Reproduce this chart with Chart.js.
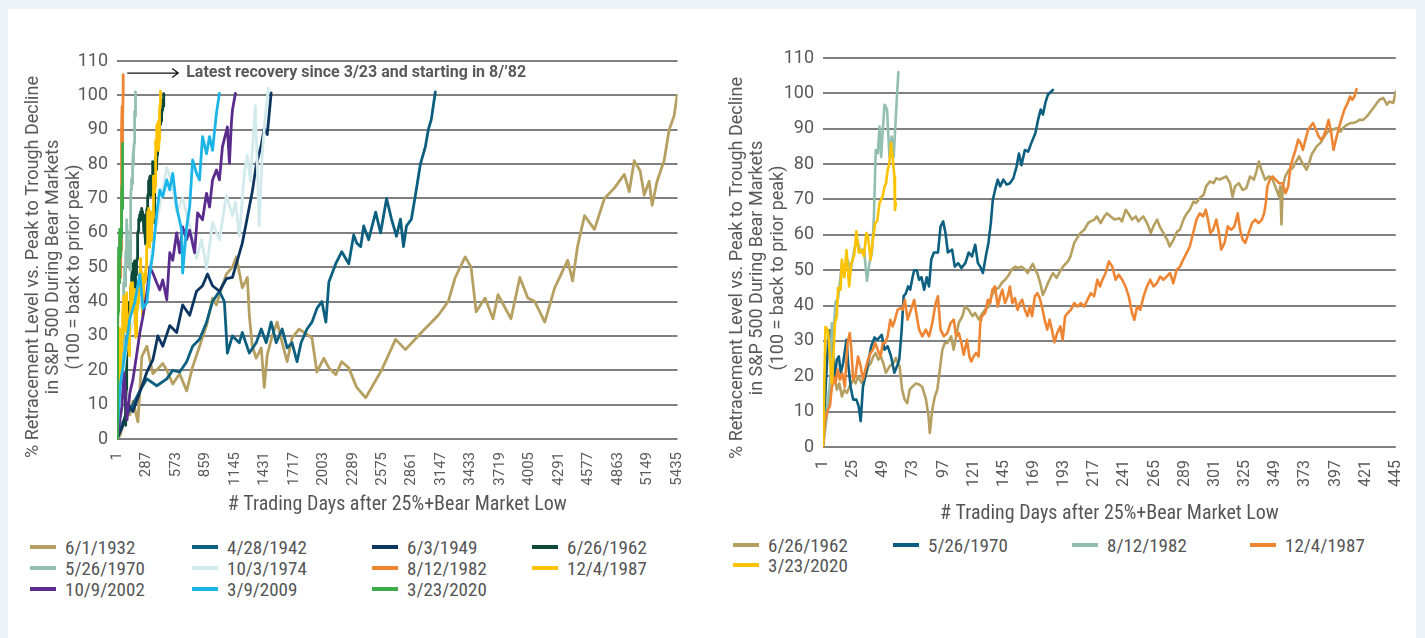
<!DOCTYPE html>
<html>
<head>
<meta charset="utf-8">
<script src="https://cdn.jsdelivr.net/npm/chart.js@4.4.1/dist/chart.umd.min.js"></script>
<style>
  html, body { margin: 0; padding: 0; }
  body { width: 1425px; height: 638px; background: #eef3f8; position: relative; overflow: hidden; font-family: Roboto, sans-serif; }
  #panel { position: absolute; left: 8px; top: 9px; width: 1408px; height: 640px; background: #fff; }
  canvas { position: absolute; }
  #leftChart { left: 0; top: 0; }
  #rightChart { left: 700px; top: 0; }
  .legend { position: absolute; left: 0; top: 0; font-family: "Liberation Sans Narrow", "Roboto Condensed", "DejaVu Sans Condensed", Roboto, sans-serif; font-size: 19px; color: #555; }
  .legend .item { position: absolute; white-space: nowrap; display: flex; align-items: center; height: 20px; }
  .legend .swatch { width: 26px; height: 4px; margin-right: 9px; }
</style>
</head>
<body>
<div id="panel"></div>
<canvas id="leftChart" width="700" height="525"></canvas>
<canvas id="rightChart" width="720" height="530"></canvas>
<div class="legend" id="leftLegend"></div>
<div class="legend" id="rightLegend"></div>
<script>
// ================= DATA =================
// [trading day, % retracement]
const s1932 = [[1,0],[30,1],[98,8],[126,7],[155,11],[204,5],[242,24],[291,27],[349,19],[416,21],[445,22],[484,20],[542,16],[609,19],[677,14],[735,21],[802,27],[870,33],[928,41],[966,39],[995,42],[1063,48],[1121,50],[1159,53],[1217,44],[1266,47],[1285,36],[1314,27],[1352,23.5],[1401,26.5],[1430,15],[1459,24.5],[1507,30],[1555,34],[1604,28],[1652,22.5],[1700,29.4],[1768,32],[1816,31],[1893,29.4],[1941,19.5],[2008,23.5],[2057,20.7],[2124,18.7],[2182,22.5],[2250,20.7],[2327,15],[2414,12],[2568,20],[2704,29],[2800,26],[2955,31],[3119,36],[3215,40],[3283,47],[3380,53],[3437,50],[3486,37],[3573,41],[3650,35],[3698,42],[3824,35],[3910,47],[3988,41],[4055,40],[4152,34],[4248,44],[4374,52],[4422,46],[4470,56],[4538,65],[4634,61],[4731,70],[4827,73],[4924,77],[4972,72],[5020,81],[5078,78],[5117,71],[5165,75],[5194,68],[5242,75],[5310,81],[5359,90],[5407,94],[5436,100]];

const s1942 = [[1,0],[59,5],[155,10],[223,14],[291,17.5],[387,15.5],[484,17.5],[542,20],[609,19.5],[677,22.5],[735,27],[802,29],[870,34],[928,40],[995,43],[1043,40],[1072,25],[1121,30],[1188,28],[1217,31],[1285,25],[1352,28],[1401,32],[1449,28],[1497,34],[1546,28],[1604,32],[1652,26.5],[1700,28],[1748,22.5],[1787,28],[1845,32],[1893,34],[1941,38],[1989,40],[2028,34],[2057,45.7],[2124,51],[2182,54.5],[2250,51],[2298,59.4],[2327,57],[2366,56],[2395,62],[2443,58],[2511,66],[2559,60],[2617,70],[2665,64],[2713,59],[2752,64],[2781,56],[2810,62],[2858,64],[2897,71],[2945,80],[2993,85],[3022,90],[3051,93],[3090,101]];

const s1949 = [[1,0],[59,4],[107,10],[155,8],[223,13.7],[291,19.5],[349,23],[397,30],[445,27],[513,33],[580,31],[638,39],[706,36],[773,43],[831,44.6],[879,48],[928,44.6],[995,43],[1063,46.7],[1121,47],[1169,52],[1217,57],[1256,63],[1314,72],[1352,79.7],[1401,85.5],[1430,90.5],[1459,88.6],[1497,100.7]];

const s1962 = [[1,0],[2,3],[4,8.7],[6,13.4],[8,17],[10,20],[12,16.2],[14,18],[16,14.3],[18,16.2],[20,15.3],[22,17],[25,19],[27,18],[29,20],[32,18],[35,20],[37,22.8],[39,23.7],[41,25.6],[43,26.6],[45,24.7],[47,25.6],[49,23.7],[51,21],[54,22.8],[57,23.7],[59,25.2],[62,22.8],[64,16.2],[66,13.4],[68,12.4],[70,16.2],[72,17],[75,18],[78,17.6],[80,17],[83,13.4],[85,8.7],[86,4],[88,10.5],[90,14.3],[92,16.2],[94,21.9],[96,27.5],[98,29.4],[100,29.4],[103,31.3],[105,27.5],[107,31.3],[109,35],[112,37],[114,39.7],[117,38.8],[120,37],[122,37.9],[125,36],[128,37.9],[130,38.8],[133,39.7],[135,42.6],[138,44.5],[141,45],[143,46.3],[146,47.3],[149,48.7],[151,50.1],[154,51],[156,50.6],[159,51],[162,50.1],[164,49.2],[166,50.6],[168,51.8],[170,50.1],[172,48.7],[174,46.3],[176,43],[178,44.5],[180,46.3],[184,49.2],[187,47.8],[189,49.2],[192,51],[196,52.5],[198,53.9],[201,57.7],[204,59.5],[206,60.5],[209,61.4],[212,63.3],[214,63.8],[217,64.3],[219,65.2],[222,63.3],[225,65.2],[227,66.1],[230,65.2],[233,64.3],[237,64.7],[239,63.8],[242,67.1],[244,66.1],[247,64.3],[250,65.2],[252,63.8],[256,65.2],[259,63.3],[262,60.5],[264,62.4],[267,64.3],[269,62.4],[272,60.5],[275,58.6],[277,56.7],[280,58.6],[283,61],[285,61.4],[288,64.3],[290,65.7],[293,67.1],[296,69.4],[298,69],[301,70.4],[304,71.3],[306,73.7],[309,75.1],[312,74.6],[314,76],[317,75.6],[319,76],[322,76.5],[325,74.6],[327,70.8],[329,73.7],[332,74.6],[335,72.7],[338,73.2],[341,76.5],[344,75.6],[346,77.9],[348,80.7],[350,78.4],[353,75.6],[356,76.5],[359,75.6],[361,73.7],[364,70.8],[365,73.7],[366,62.9],[367,73.7],[369,76.5],[372,78.4],[375,78.9],[377,80.3],[380,82.2],[382,80.7],[386,78.4],[388,80.3],[390,82.7],[394,85],[397,86],[400,87.8],[402,88.8],[405,89.7],[407,89.7],[410,90.2],[413,89.2],[415,90.2],[418,91.1],[421,91.6],[423,91.6],[426,92],[428,92.5],[431,92.5],[434,93.5],[436,94.4],[439,95.8],[442,97.3],[444,98.2],[447,98.7],[450,96.8],[452,97.7],[455,97.3],[457,100.5]];

const s1970 = [[1,0],[3,16],[5,29.4],[6.5,33],[8,31],[9,25.6],[10.5,20],[12,24.7],[13.6,25.6],[15.2,21],[17,23.7],[19.7,30.3],[21,23.7],[23,17],[25,13.4],[27.6,13.4],[29.4,11.5],[31,7.3],[32.8,17],[34.7,20],[36.8,23.7],[39.4,28.5],[42,31],[44.1,30.3],[46,31],[47.8,31.7],[50,27.5],[52.5,28.5],[55.2,25.6],[57.8,21],[59.9,22.8],[61.7,24.7],[63.6,33],[65.2,42.6],[67,43.5],[68.8,45.4],[70.4,44.5],[72.3,48],[73.6,50],[75.7,50],[77.5,47.3],[79.4,48],[81.5,44.5],[83.6,48],[85.4,45.4],[87.2,53],[89.3,55],[92.5,55],[94.6,62.4],[96.7,63.8],[98.5,60.5],[100.4,55],[103.8,55.8],[105.9,51],[108.6,52],[111.2,50.6],[114.3,52],[117,55],[119.6,53.9],[122.2,57.2],[124.3,52],[126.2,51],[128.3,49.2],[130.6,53.9],[132.7,57.7],[134.6,63.3],[136.2,69.9],[138,72.7],[140.1,75.6],[142,73.7],[144.6,75.6],[147.2,74.2],[149.8,74.6],[152.5,76],[155.1,79.3],[157,83],[159,79.7],[161.7,84],[164.3,83.5],[166.9,86],[170.1,88.8],[172.2,92.5],[174.3,95.4],[176.1,94],[178,97.3],[180,99.6],[184,101]];

const s1974 = [[1,0],[30,12],[98,28],[175,36],[291,43],[349,56],[416,68],[484,79],[532,75],[580,66],[638,70],[706,62],[773,52.5],[822,58],[870,49.6],[928,63],[995,58],[1063,71],[1121,65],[1150,69],[1188,59],[1237,77.7],[1266,82.7],[1295,75],[1343,97],[1381,62],[1410,82.7],[1440,94],[1469,102]];

const s1982 = [[1,0],[4,10.5],[7,20],[8,35],[9,30],[11,41],[13,42],[14,45],[16,52],[18,50],[20.5,53],[23,50],[26,56],[28.3,58.6],[31,55],[33.6,56],[36,47],[38,52],[40,55],[41.5,65],[43,84],[44.6,83],[46,90.6],[47.3,82],[48.6,89.7],[50,96.8],[52,95.4],[53.9,82],[55.7,87.8],[57.3,82],[59,93.5],[60,100],[61,106]];

const s1987 = [[1,0],[2.6,7.7],[4.7,10.5],[6.5,11.5],[7.8,16.2],[9.2,20],[11,18],[12.6,21.9],[14.4,19],[16.3,20.9],[18.4,17],[20.5,29.4],[22.3,32.2],[23.6,27.5],[25,19],[26.8,20],[28.9,25.6],[31,22.8],[32.8,19],[34.7,21.9],[36.8,24.7],[38.9,26.6],[40.7,27.5],[42.5,29.4],[44.6,27.5],[46.8,25.6],[48.6,29.4],[50.4,29.4],[52.5,31.3],[54.6,36],[56.5,34.1],[58.3,36],[60.4,38.8],[62.5,39.3],[64.4,38.8],[66.2,41.6],[68.3,36],[71,38.8],[73.6,41.6],[75.7,36.9],[77.5,33.2],[80.1,31.3],[82.8,33.2],[85.4,31.3],[88,35],[90.7,40.7],[92.5,42.6],[94.6,33.2],[97.2,31.3],[99.9,32.2],[102.5,35],[105.1,36],[107,31.3],[109.1,32.2],[111.2,29.4],[113,26.1],[115.7,30.3],[117.5,25.6],[119.1,24.2],[120.9,25.6],[122.8,26.6],[124.9,25.6],[126.2,35],[127.5,37],[130.1,37.9],[132.2,41.6],[134.1,40.7],[135.9,44.5],[138,45.4],[140.1,39.7],[142,42.6],[143.8,44.5],[145.9,40.7],[148,42.6],[149.8,45.4],[151.7,40.7],[153.8,42.1],[155.9,38.8],[157.7,40.7],[159.6,41.6],[161.7,38.8],[163.8,37],[165.6,39.7],[167.5,37],[169.6,42.6],[171.7,43.5],[173.5,42.1],[175.3,39.7],[177.4,36],[179.5,33.2],[181.4,36],[183.2,33.2],[185.3,29.6],[187.4,32.2],[190,34.1],[191.8,30.3],[193.7,36.9],[195.8,37.9],[198.4,38.8],[201,40.7],[203.7,39.7],[206.3,40.7],[208.9,39.7],[211.5,41.6],[214.2,43.5],[216.8,42.6],[219.4,47.3],[221.5,45.4],[223.4,47.3],[226,49.2],[228.6,52.5],[231.3,51],[233.9,47.3],[236.5,48.7],[239.2,47.3],[241.8,45.4],[244.4,42.6],[247,37.9],[248.9,36],[251,39.7],[253.6,38.8],[256.2,42.6],[258.9,45.4],[261.5,47.3],[264.1,45.4],[266.8,46.3],[269.4,48.2],[272,47.3],[274.6,48.2],[277.3,49.2],[279.9,46.3],[282.5,50.1],[285.2,51],[287.8,53],[290.4,54.8],[293,56.7],[295.7,60.5],[298.3,64.3],[300.9,66.1],[303.6,65.2],[305.7,67.1],[307.5,64.3],[309.3,60.5],[311.5,61.4],[314.1,64.3],[316.2,60.5],[318,55.8],[320.7,57.7],[323.3,62.4],[325.9,61.4],[328.5,62.4],[331.2,66.1],[333,61.4],[335.1,58.6],[337.2,57.7],[339.8,60.5],[342.5,63.3],[345.1,64.3],[347.7,63.3],[350.4,64.3],[352.2,66.1],[353.5,69],[354.8,73.7],[356.7,75.6],[358.8,76.5],[361.4,75.6],[364,74.6],[366.7,74.6],[369.3,71.8],[371.4,73.7],[373.2,79.3],[375.1,81.7],[377.2,84],[379.3,86.9],[381.1,86],[383,84],[385.1,86.9],[387.2,89.7],[389,90.6],[391.1,91.6],[393.5,89.7],[395.6,87.8],[397.7,86.9],[399.5,87.8],[401.4,89.7],[403.5,92.5],[405.6,88.8],[407.4,84],[409.3,86.9],[411.4,89.7],[413.5,92.5],[416.1,95.4],[418.7,97.3],[420.6,99.1],[422.4,98.2],[424,99.1],[425.8,101.2]];

const s2002 = [[1,0],[10,0],[49,9.4],[69,19.3],[98,5.6],[126,13.5],[155,17.2],[194,25],[223,31],[252,35.6],[291,42.5],[320,50],[349,48.3],[387,45.4],[416,43.4],[445,46.3],[484,40.5],[513,54.2],[542,52],[580,60],[609,54.2],[638,61.7],[677,58],[706,60.8],[754,54.2],[783,65.8],[831,63.8],[870,71.5],[899,67.5],[928,75.4],[966,78.3],[995,75.4],[1024,85],[1072,90.8],[1092,80.3],[1111,92],[1121,95.7],[1150,100.6]];

const s2009 = [[1,0],[30,15],[78,25],[126,35],[175,40],[223,48],[252,38],[291,39.6],[320,48.3],[349,54],[387,65.7],[416,72.5],[445,70.5],[484,75.4],[513,72.5],[542,77.3],[580,67.5],[628,60.8],[638,48.3],[677,61.7],[706,67.5],[735,81.2],[773,77.3],[802,75.4],[831,88],[870,83],[899,88],[928,84],[966,94.8],[995,100.6]];

const s2020 = [[1,0],[2,18],[3,34],[5,33],[6.5,25.6],[8,18],[9,23.7],[10.5,35],[12,37],[13,45],[15,44.5],[16,53],[18,48],[19.7,55.7],[21.8,45.4],[23.6,52],[25.7,54],[27.6,61],[29.4,55],[31.5,55.8],[33.6,54],[35.5,60.5],[36.8,59.5],[38.9,53],[40.7,58.6],[42.5,63.3],[44.1,63.8],[46,69],[47.3,70],[48.6,71],[50,73.7],[51.2,74.6],[52.5,78.4],[53.9,80.3],[55.2,86],[56.5,82],[57.8,76.5],[58.3,67],[59,69]];

// series: label, data, colour
const leftNames  = ["6/1/1932", "4/28/1942", "6/3/1949", "6/26/1962", "5/26/1970", "10/3/1974", "8/12/1982", "12/4/1987", "10/9/2002", "3/9/2009", "3/23/2020"];
const leftSeries = [s1932, s1942, s1949, s1962, s1970, s1974, s1982, s1987, s2002, s2009, s2020];
const leftColors = ["#b5a062", "#0d5f80", "#0c3660", "#0c4a37", "#93bfb0", "#d3eaed", "#ee8533", "#fdc300", "#5a2c8e", "#1cb5e8", "#3cab4a"];

const rightNames  = ["6/26/1962", "5/26/1970", "8/12/1982", "12/4/1987", "3/23/2020"];
const rightSeries = [s1962, s1970, s1982, s1987, s2020];
const rightColors = ["#b5a062", "#0d5f80", "#93bfb0", "#ee8533", "#fdc300"];

// tick labels
const leftTicks = [1, 287, 573, 859, 1145, 1431, 1717, 2003, 2289, 2575, 2861, 3147, 3433, 3719, 4005, 4291, 4577, 4863, 5149, 5435];
const rightTickPos = [1, 25, 49, 73, 97, 121, 145, 169, 193, 217, 241, 265, 289, 313, 337, 361, 385, 409, 433, 457];
const rightTickLabels = ["1", "25", "49", "73", "97", "121", "145", "169", "193", "217", "241", "265", "289", "301", "325", "349", "373", "397", "421", "445"];

const yTitle = ["% Retracement Level vs. Peak to Trough Decline", "in S&P 500 During Bear Markets", "(100 = back to prior peak)"];
const xTitle = "# Trading Days after 25%+Bear Market Low";
const note = "Latest recovery since 3/23 and starting in 8/\u201982";

// ================= FONTS / PLUGINS =================
const NARROW = '"Liberation Sans Narrow", "Roboto Condensed", "DejaVu Sans Condensed", Roboto, sans-serif';
const TICKFONT = 'Roboto, "Liberation Sans", sans-serif';

const sideTitle = {
  id: "sideTitle",
  afterDraw(chart, args, opts) {
    const ctx = chart.ctx;
    ctx.save();
    ctx.font = opts.font;
    ctx.fillStyle = "#595959";
    ctx.textAlign = "center";
    ctx.textBaseline = "middle";
    opts.lines.forEach((t, i) => {
      ctx.save();
      ctx.translate(opts.x + i * opts.lineHeight, opts.y);
      ctx.rotate(-Math.PI / 2);
      ctx.fillText(t, 0, 0);
      ctx.restore();
    });
    ctx.restore();
  }
};

const noteArrow = {
  id: "noteArrow",
  afterDraw(chart) {
    const ctx = chart.ctx;
    const x0 = chart.scales.x.getPixelForValue(100);
    const y0 = chart.scales.y.getPixelForValue(106.5);
    const x1 = x0 + 51;
    ctx.save();
    ctx.strokeStyle = "#111";
    ctx.lineWidth = 1.3;
    ctx.beginPath();
    ctx.moveTo(x0, y0);
    ctx.lineTo(x1, y0);
    ctx.moveTo(x1 - 6, y0 - 4.5);
    ctx.lineTo(x1, y0);
    ctx.lineTo(x1 - 6, y0 + 4.5);
    ctx.stroke();
    ctx.font = "bold 16px " + TICKFONT;
    ctx.fillStyle = "#595959";
    ctx.textBaseline = "middle";
    ctx.fillText(note, x1 + 8, y0);
    ctx.restore();
  }
};

// ================= BUILD =================
function buildDatasets(names, series, colors) {
  const n = names.length;
  return names.map((name, i) => ({
    label: name,
    data: series[i].map(p => ({ x: p[0], y: p[1] })),
    borderColor: colors[i],
    backgroundColor: colors[i],
    order: n - i
  }));
}

function makeChart(id, cfg) {
  return new Chart(document.getElementById(id), {
    type: "line",
    data: { datasets: buildDatasets(cfg.names, cfg.series, cfg.colors) },
    plugins: cfg.plugins,
    options: {
      responsive: false,
      animation: false,
      events: [],
      layout: { padding: cfg.padding },
      elements: {
        point: { radius: 0 },
        line: { borderWidth: cfg.lineWidth, tension: 0, borderJoinStyle: "round", borderCapStyle: "round" }
      },
      plugins: {
        legend: { display: false },
        tooltip: { enabled: false },
        sideTitle: { lines: yTitle, x: cfg.titleX, y: cfg.titleY, lineHeight: 20.5, font: "18px " + TICKFONT }
      },
      scales: {
        x: {
          type: "linear",
          min: 1,
          max: cfg.xMax,
          afterBuildTicks: s => { s.ticks = cfg.tickPos.map(v => ({ value: v })); },
          afterFit: s => { s.height = cfg.xAxisHeight; },
          grid: { display: false },
          border: { display: false },
          ticks: {
            autoSkip: false, minRotation: 90, maxRotation: 90, padding: 5,
            color: "#595959", font: { family: TICKFONT, size: cfg.xTickSize },
            callback: (v, i) => cfg.tickLabels[i]
          },
          title: {
            display: true, text: xTitle, color: "#555",
            font: { family: NARROW, size: 20 },
            padding: { top: 0, bottom: cfg.xTitlePad }
          }
        },
        y: {
          min: 0, max: 110,
          afterFit: s => { s.width = cfg.yAxisWidth; },
          ticks: { stepSize: 10, color: "#595959", font: { family: TICKFONT, size: 18 }, padding: 9 },
          grid: { color: "#808080", lineWidth: 2, drawTicks: false },
          border: { display: false }
        }
      }
    }
  });
}

makeChart("leftChart", {
  names: leftNames, series: leftSeries, colors: leftColors,
  plugins: [sideTitle, noteArrow],
  padding: { top: 61, right: 19, left: 0, bottom: 0 },
  xMax: 5440, tickPos: leftTicks, tickLabels: leftTicks.map(String),
  xAxisHeight: 86, xTickSize: 15, xTitlePad: 8, yAxisWidth: 117,
  titleX: 33, titleY: 267, lineWidth: 2.8
});

makeChart("rightChart", {
  names: rightNames, series: rightSeries, colors: rightColors,
  plugins: [sideTitle],
  padding: { top: 58, right: 18, left: 0, bottom: 0 },
  xMax: 457, tickPos: rightTickPos, tickLabels: rightTickLabels,
  xAxisHeight: 83, xTickSize: 16, xTitlePad: 4, yAxisWidth: 123,
  titleX: 37, titleY: 268, lineWidth: 2.6
});

// ================= LEGENDS =================
function buildLegend(elId, names, colors, cols, rows) {
  const box = document.getElementById(elId);
  names.forEach((name, i) => {
    const item = document.createElement("div");
    item.className = "item";
    item.style.left = cols[i % cols.length] + "px";
    item.style.top = (rows[Math.floor(i / cols.length)] - 10) + "px";
    item.innerHTML = '<span class="swatch" style="background:' + colors[i] + '"></span>' + name;
    box.appendChild(item);
  });
}
buildLegend("leftLegend", leftNames, leftColors, [30, 192, 372, 532], [547, 568, 589]);
buildLegend("rightLegend", rightNames, rightColors, [733, 893, 1072, 1250], [545, 565]);
</script>
</body>
</html>
